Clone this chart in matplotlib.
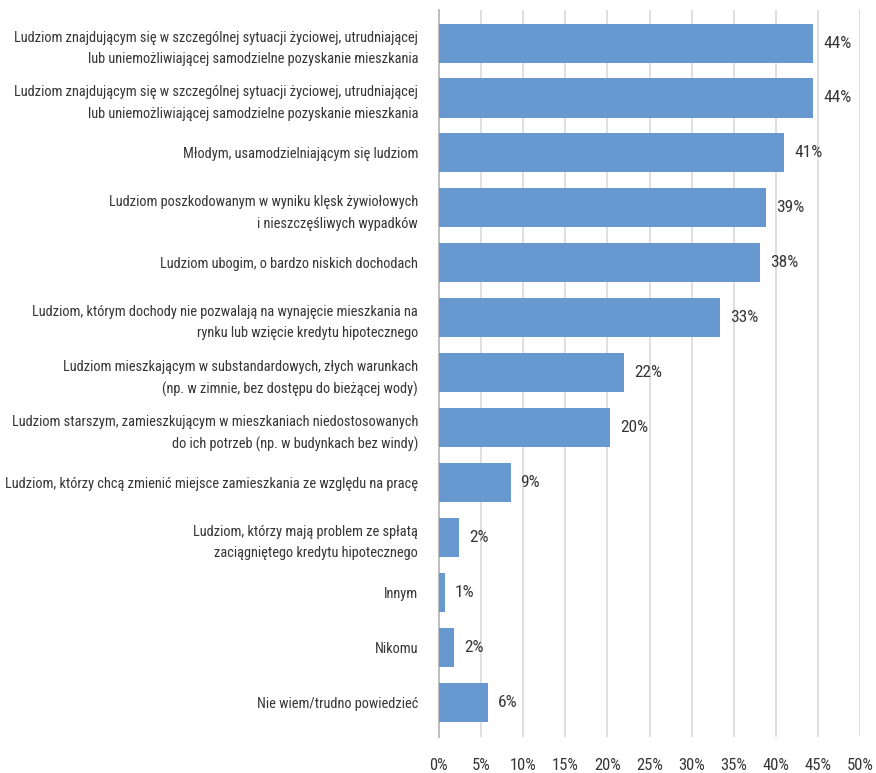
import matplotlib.pyplot as plt
from matplotlib import font_manager

# condensed font close to the narrow Calibri of the original
installed = {f.name for f in font_manager.fontManager.ttflist}
preferred = ['Roboto Condensed', 'Open Sans Condensed', 'Archivo Narrow', 'Barlow Semi Condensed', 'Asap Condensed']
family = [f for f in preferred if f in installed][:1] + ['DejaVu Sans']
plt.rcParams['font.family'] = family

categories = [
    "Ludziom znajdującym się w szczególnej sytuacji życiowej, utrudniającej\nlub uniemożliwiającej samodzielne pozyskanie mieszkania",
    "Ludziom znajdującym się w szczególnej sytuacji życiowej, utrudniającej\nlub uniemożliwiającej samodzielne pozyskanie mieszkania",
    "Młodym, usamodzielniającym się ludziom",
    "Ludziom poszkodowanym w wyniku klęsk żywiołowych\ni nieszczęśliwych wypadków",
    "Ludziom ubogim, o bardzo niskich dochodach",
    "Ludziom, którym dochody nie pozwalają na wynajęcie mieszkania na\nrynku lub wzięcie kredytu hipotecznego",
    "Ludziom mieszkającym w substandardowych, złych warunkach\n(np. w zimnie, bez dostępu do bieżącej wody)",
    "Ludziom starszym, zamieszkującym w mieszkaniach niedostosowanych\ndo ich potrzeb (np. w budynkach bez windy)",
    "Ludziom, którzy chcą zmienić miejsce zamieszkania ze względu na pracę",
    "Ludziom, którzy mają problem ze spłatą\nzaciągniętego kredytu hipotecznego",
    "Innym",
    "Nikomu",
    "Nie wiem/trudno powiedzieć",
]
values = [44.4, 44.4, 41.0, 38.8, 38.1, 33.4, 22.0, 20.3, 8.5, 2.4, 0.7, 1.8, 5.8]
labels = ["44%", "44%", "41%", "39%", "38%", "33%", "22%", "20%", "9%", "2%", "1%", "2%", "6%"]
xticks = [0, 5, 10, 15, 20, 25, 30, 35, 40, 45, 50]

text_color = '#363636'

fig = plt.figure(figsize=(8.76, 7.73), dpi=100)
ax = fig.add_axes([0.501, 0.047, 0.481, 0.94])

y = range(len(categories))
ax.barh(y, values, height=0.71, color='#6799d0', zorder=3)

for i, (v, lab) in enumerate(zip(values, labels)):
    ax.text(v + 1.2, i, lab, va='center', ha='left', fontsize=12.5, color=text_color)

ax.set_xlim(0, 50)
ax.set_ylim(12.62, -0.6)
ax.set_xticks(xticks)
ax.set_xticklabels([f"{t}%" for t in xticks])
ax.set_yticks(list(y))
ax.set_yticklabels(categories, ha='right', linespacing=1.65)

ax.tick_params(axis='both', length=0, colors=text_color)
ax.tick_params(axis='y', pad=15, labelsize=10.35)
ax.tick_params(axis='x', pad=15, labelsize=12)

ax.grid(axis='x', color='#d9d9d9', linewidth=1.2, zorder=0)
for s in ['top', 'right', 'bottom']:
    ax.spines[s].set_visible(False)
ax.spines['left'].set_color('#bfbfbf')
ax.spines['left'].set_linewidth(1.5)

fig.savefig('out.png', dpi=100)
